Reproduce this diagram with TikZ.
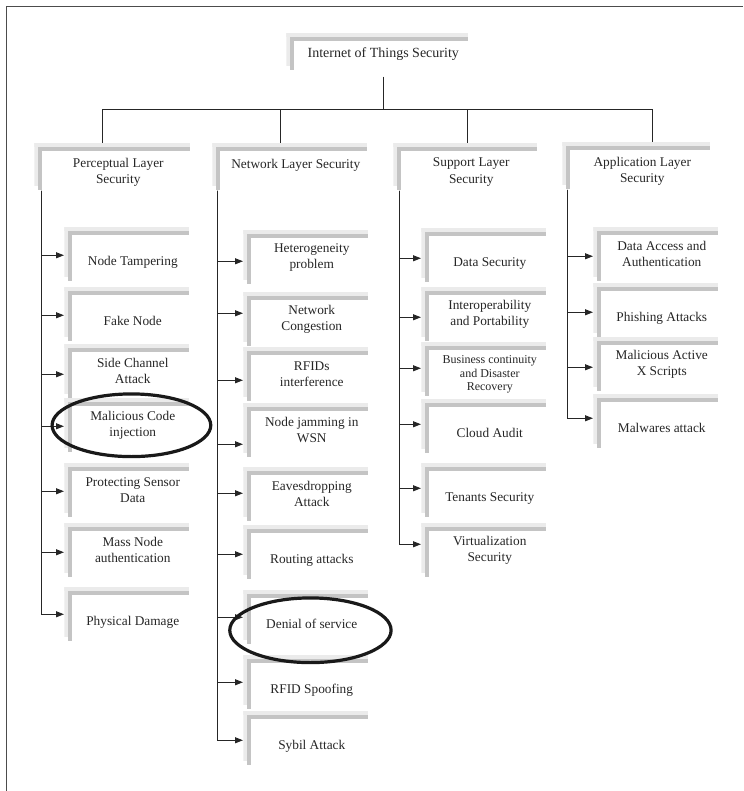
\documentclass[tikz,border=0pt]{standalone}
\usepackage{fontspec}
\setmainfont{Liberation Serif}
\usetikzlibrary{arrows.meta}

\definecolor{bandlight}{gray}{0.92}
\definecolor{banddark}{gray}{0.77}

\tikzset{
  band/.store in=\bandlen, band=40.5pt,
  secbox/.style={rectangle, anchor=north west, inner sep=0pt, align=center,
    text=black!85, font=\fontsize{10}{12}\selectfont,
    minimum width=102.75pt, minimum height=40.5pt,
    path picture={
      \fill[bandlight] (path picture bounding box.north west)
        rectangle ([xshift=-9pt,yshift=-3pt]path picture bounding box.north east);
      \fill[bandlight] (path picture bounding box.north west)
        rectangle ([xshift=3pt,yshift=-\bandlen+3pt]path picture bounding box.north west);
      \fill[banddark] ([xshift=3pt,yshift=-3pt]path picture bounding box.north west)
        rectangle ([xshift=-9pt,yshift=-6pt]path picture bounding box.north east);
      \fill[banddark] ([xshift=3pt,yshift=-3pt]path picture bounding box.north west)
        rectangle ([xshift=6pt,yshift=-\bandlen]path picture bounding box.north west);
    }},
  layerbox/.style={secbox, band=35.25pt, minimum height=43.5pt,
    font=\fontsize{10}{12.5}\selectfont},
  oneline/.style={text height=17.4pt, text depth=0pt},
  upline/.style={text height=3pt, text depth=8.9pt},
  ring/.style={draw, line width=2.4pt, black!90},
  conn/.style={line width=0.7pt, black!85},
}

\begin{document}
\begin{tikzpicture}[x=0.75pt, y=-0.75pt, >={Triangle[length=6pt,width=4.5pt]}]
  \useasboundingbox (0,0) rectangle (743,791);
  \draw[line width=0.7pt, black!70] (6,791) -- (6,6) -- (743,6);

  % top of the tree
  \node[secbox, band=27.75pt, minimum width=145.5pt, minimum height=27.75pt,
        text height=9.1pt, text depth=0pt,
        font=\fontsize{10.5}{12}\selectfont] (root) at (286,33) {Internet of Things Security};

  \node[layerbox, minimum width=126pt] (pl) at (34,143) {Perceptual Layer\\Security};
  \node[layerbox, upline, minimum width=125.25pt] (nl) at (212,143) {Network Layer Security};
  \node[layerbox, minimum width=117pt] (sl) at (393,143) {Support Layer\\Security};
  \node[layerbox, minimum width=120pt] (al) at (562,142) {Application Layer\\Security};

  \coordinate (bus) at (0,109.5);
  \coordinate (dp) at ([xshift=51pt]pl.north west);
  \coordinate (dn) at ([xshift=51pt]nl.north west);
  \coordinate (ds) at ([xshift=55.5pt]sl.north west);
  \coordinate (da) at ([xshift=67.5pt]al.north west);
  \draw[conn] ([yshift=-4.5pt]root.south) -- (root.south |- bus);
  \draw[conn] (dp |- bus) -- (da |- bus);
  \foreach \d in {dp,dn,ds,da}
    \draw[conn] (\d |- bus) -- (\d);

  % perceptual layer
  \node[secbox, oneline] (nt) at (64,227) {Node Tampering};
  \node[secbox, oneline] (fn) at (64,287) {Fake Node};
  \node[secbox] (sc) at (64,344) {Side Channel\\Attack};
  \node[secbox] (mc) at (64,398) {Malicious Code\\injection};
  \node[secbox] (ps) at (64,463) {Protecting Sensor\\Data};
  \node[secbox] (mn) at (64,523) {Mass Node\\authentication};
  \node[secbox, oneline] (pd) at (64,587) {Physical Damage};

  % network layer
  \node[secbox] (ht) at (243,230) {Heterogeneity\\problem};
  \node[secbox] (nc) at (243,292) {Network\\Congestion};
  \node[secbox] (rf) at (243,347) {RFIDs\\interference};
  \node[secbox] (nj) at (243,403) {Node jamming in\\WSN};
  \node[secbox] (ea) at (243,467) {Eavesdropping\\Attack};
  \node[secbox, oneline] (ra) at (243,525) {Routing attacks};
  \node[secbox, oneline] (dos) at (243,590) {Denial of service};
  \node[secbox, oneline] (rs) at (243,655) {RFID Spoofing};
  \node[secbox, oneline] (sy) at (243,711) {Sybil Attack};

  % support layer
  \node[secbox, oneline] (dsec) at (421,228) {Data Security};
  \node[secbox] (ip) at (421,287) {Interoperability\\and Portability};
  \node[secbox, font=\fontsize{9}{10}\selectfont] (bc) at (421,342)
    {\rule{0pt}{13.6pt}Business continuity\\and Disaster\\Recovery};
  \node[secbox, oneline] (ca) at (421,399) {Cloud Audit};
  \node[secbox, oneline] (tsec) at (421,463) {Tenants Security};
  \node[secbox] (vs) at (421,523) {Virtualization\\Security};

  % application layer
  \node[secbox] (dac) at (593,227) {Data Access and\\Authentication};
  \node[secbox, oneline] (pa) at (593,283) {Phishing Attacks};
  \node[secbox] (ma) at (593,337) {Malicious Active\\X Scripts};
  \node[secbox, oneline] (mw) at (593,394) {Malwares attack};

  % trunks and arrows
  \coordinate (tp) at ([xshift=5.25pt,yshift=8.25pt]pl.south west);
  \coordinate (tn) at ([xshift=3.75pt,yshift=8.25pt]nl.south west);
  \coordinate (ts) at ([xshift=4.5pt,yshift=8.25pt]sl.south west);
  \coordinate (ta) at ([xshift=3.75pt,yshift=8.25pt]al.south west);
  \foreach \c/\d in {nt/1,fn/1,sc/3,mc/1,ps/1,mn/2,pd/0}
    \draw[conn,->] (tp) |- ([yshift={-0.75pt*(\d)}]\c.west);
  \foreach \c/\d in {ht/4,nc/-6,rf/6,nj/14,ea/-1,ra/2,dos/0,rs/0,sy/2}
    \draw[conn,->] (tn) |- ([yshift={-0.75pt*(\d)}]\c.west);
  \foreach \c/\d in {dsec/3,ip/3,bc/-1,ca/-2,tsec/-2,vs/-6}
    \draw[conn,->] (ts) |- ([yshift={-0.75pt*(\d)}]\c.west);
  \foreach \c/\d in {dac/2,pa/2,ma/3,mw/-3}
    \draw[conn,->] (ta) |- ([yshift={-0.75pt*(\d)}]\c.west);

  % highlighted threats
  \draw[ring] ([xshift=-1pt]mc.center) ellipse [x radius=59.5pt, y radius=23.5pt];
  \draw[ring] ([xshift=-1pt,yshift=-9.75pt]dos.center) ellipse [x radius=60.5pt, y radius=24.25pt];
\end{tikzpicture}
\end{document}
